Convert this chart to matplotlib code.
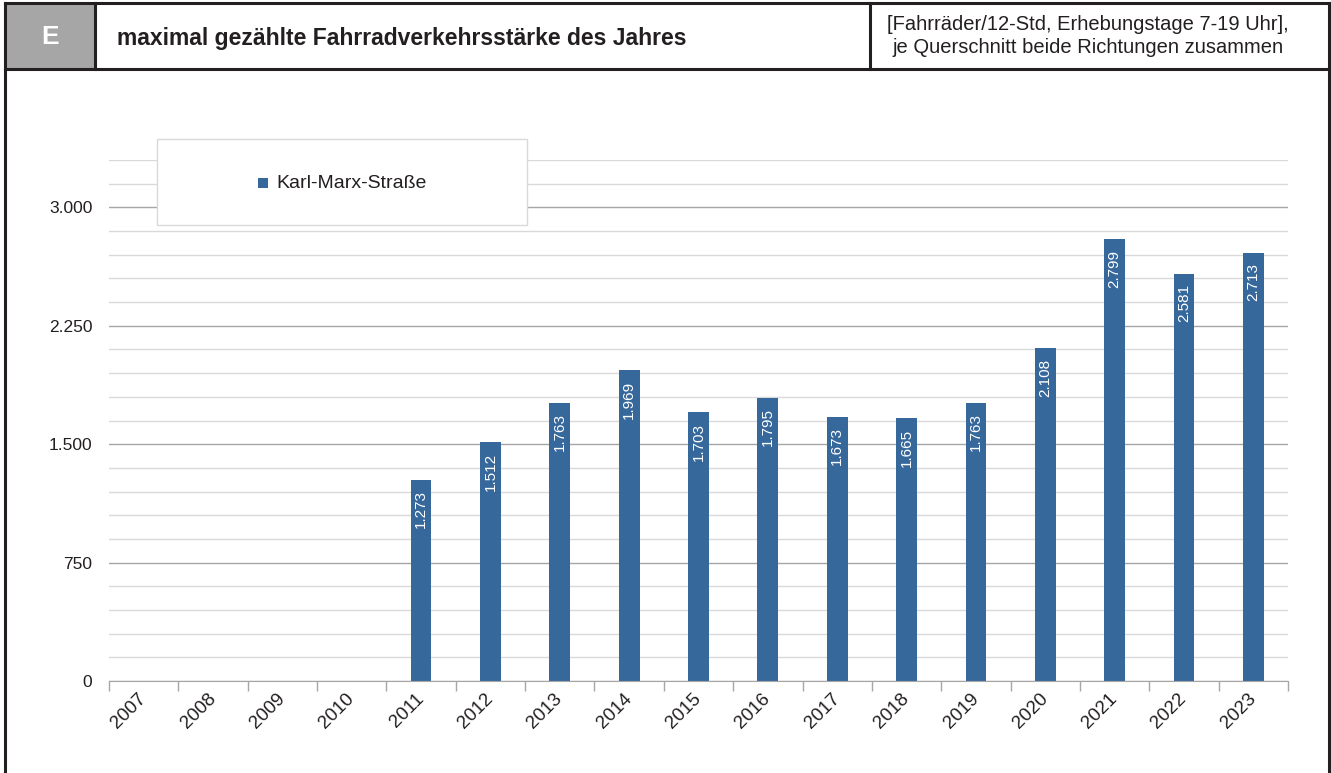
import matplotlib
matplotlib.use("Agg")
import matplotlib.pyplot as plt
from matplotlib.lines import Line2D
from matplotlib.patches import Rectangle
from matplotlib.ticker import MultipleLocator, FuncFormatter

plt.rcParams['font.family'] = ['Liberation Sans', 'DejaVu Sans']

# Jahre und maximale Tageswerte (Karl-Marx-Straße)
jahre = ['2007', '2008', '2009', '2010', '2011', '2012', '2013', '2014', '2015',
         '2016', '2017', '2018', '2019', '2020', '2021', '2022', '2023']
werte = [None, None, None, None, 1273, 1512, 1763, 1969, 1703,
         1795, 1673, 1665, 1763, 2108, 2799, 2581, 2713]

farbe = '#36689c'
W, H = 1331, 773

fig = plt.figure(figsize=(W / 100, H / 100), dpi=100)

def fx(px):
    return px / W

def fy(py):
    return 1 - py / H

# Kopfzeile mit Rahmen
fig.add_artist(Rectangle((fx(5), fy(69)), fx(95) - fx(5), fy(3) - fy(69),
                         transform=fig.transFigure, facecolor='#a6a6a6', edgecolor='none'))
lw = 2.2
for x0, y0, x1, y1 in [(5, 3, 1329, 3), (5, 69, 1329, 69), (5, 3, 5, 773),
                       (1329, 3, 1329, 773), (95, 3, 95, 69), (870, 3, 870, 69)]:
    fig.add_artist(Line2D([fx(x0), fx(x1)], [fy(y0), fy(y1)], color='#231f20',
                          lw=lw, transform=fig.transFigure))

fig.text(fx(50), fy(37), 'E', color='white', fontsize=19, fontweight='bold',
         ha='center', va='center')
fig.text(fx(117), fy(38), 'maximal gezählte Fahrradverkehrsstärke des Jahres',
         fontsize=16.5, fontweight='bold', color='#231f20', ha='left', va='center')
fig.text(fx(1088), fy(36),
         '[Fahrräder/12-Std, Erhebungstage 7-19 Uhr],\nje Querschnitt beide Richtungen zusammen',
         fontsize=14.5, color='#231f20', ha='center', va='center', linespacing=1.3)

# Diagrammfläche
ax = fig.add_axes([fx(109), fy(681), fx(1288) - fx(109), fy(160) - fy(681)])
pos = list(range(len(jahre)))
hoehen = [w if w is not None else 0 for w in werte]
ax.bar(pos, hoehen, width=0.3, color=farbe, zorder=3)

for p, w in zip(pos, werte):
    if w is None:
        continue
    txt = f'{w:,}'.replace(',', '.')
    ax.annotate(txt, (p, w), xytext=(0, -7.5), textcoords='offset points',
                rotation=90, ha='center', va='top', color='white', fontsize=11,
                zorder=4)

ax.set_xlim(-0.5, len(jahre) - 0.5)
ax.set_ylim(0, 3300)
ax.yaxis.set_major_locator(MultipleLocator(750))
ax.yaxis.set_minor_locator(MultipleLocator(150))
ax.yaxis.set_major_formatter(FuncFormatter(lambda v, _: f'{int(v):,}'.replace(',', '.')))
ax.grid(which='minor', axis='y', color='#d9d9d9', lw=1, zorder=0)
ax.grid(which='major', axis='y', color='#a6a6a6', lw=1, zorder=1)
ax.tick_params(axis='y', which='both', length=0, labelsize=12.5, pad=12, labelcolor='#231f20')

ax.set_xticks(pos)
ax.set_xticklabels(jahre, rotation=45, ha='right', va='center', rotation_mode='anchor',
                   fontsize=13.5, color='#231f20')
ax.tick_params(axis='x', which='major', length=0, pad=11)
ax.set_xticks([p - 0.5 for p in pos] + [len(jahre) - 0.5], minor=True)
ax.tick_params(axis='x', which='minor', length=7, color='#a6a6a6', width=1)

for s in ['top', 'right', 'left']:
    ax.spines[s].set_visible(False)
ax.spines['bottom'].set_color('#a6a6a6')
ax.spines['bottom'].set_zorder(5)

# Legende
leg_box = Rectangle((fx(157), fy(225)), fx(527) - fx(157), fy(139) - fy(225),
                    transform=fig.transFigure, facecolor='white', edgecolor='#d9d9d9',
                    lw=1, zorder=10)
fig.add_artist(leg_box)
fig.add_artist(Rectangle((fx(258), fy(188)), fx(10) - fx(0), fy(0) - fy(10),
                         transform=fig.transFigure, facecolor=farbe, edgecolor='none',
                         zorder=11))
fig.text(fx(276), fy(183), 'Karl-Marx-Straße', fontsize=14, color='#231f20',
         ha='left', va='center', zorder=11)

fig.savefig('out.png', dpi=100)
